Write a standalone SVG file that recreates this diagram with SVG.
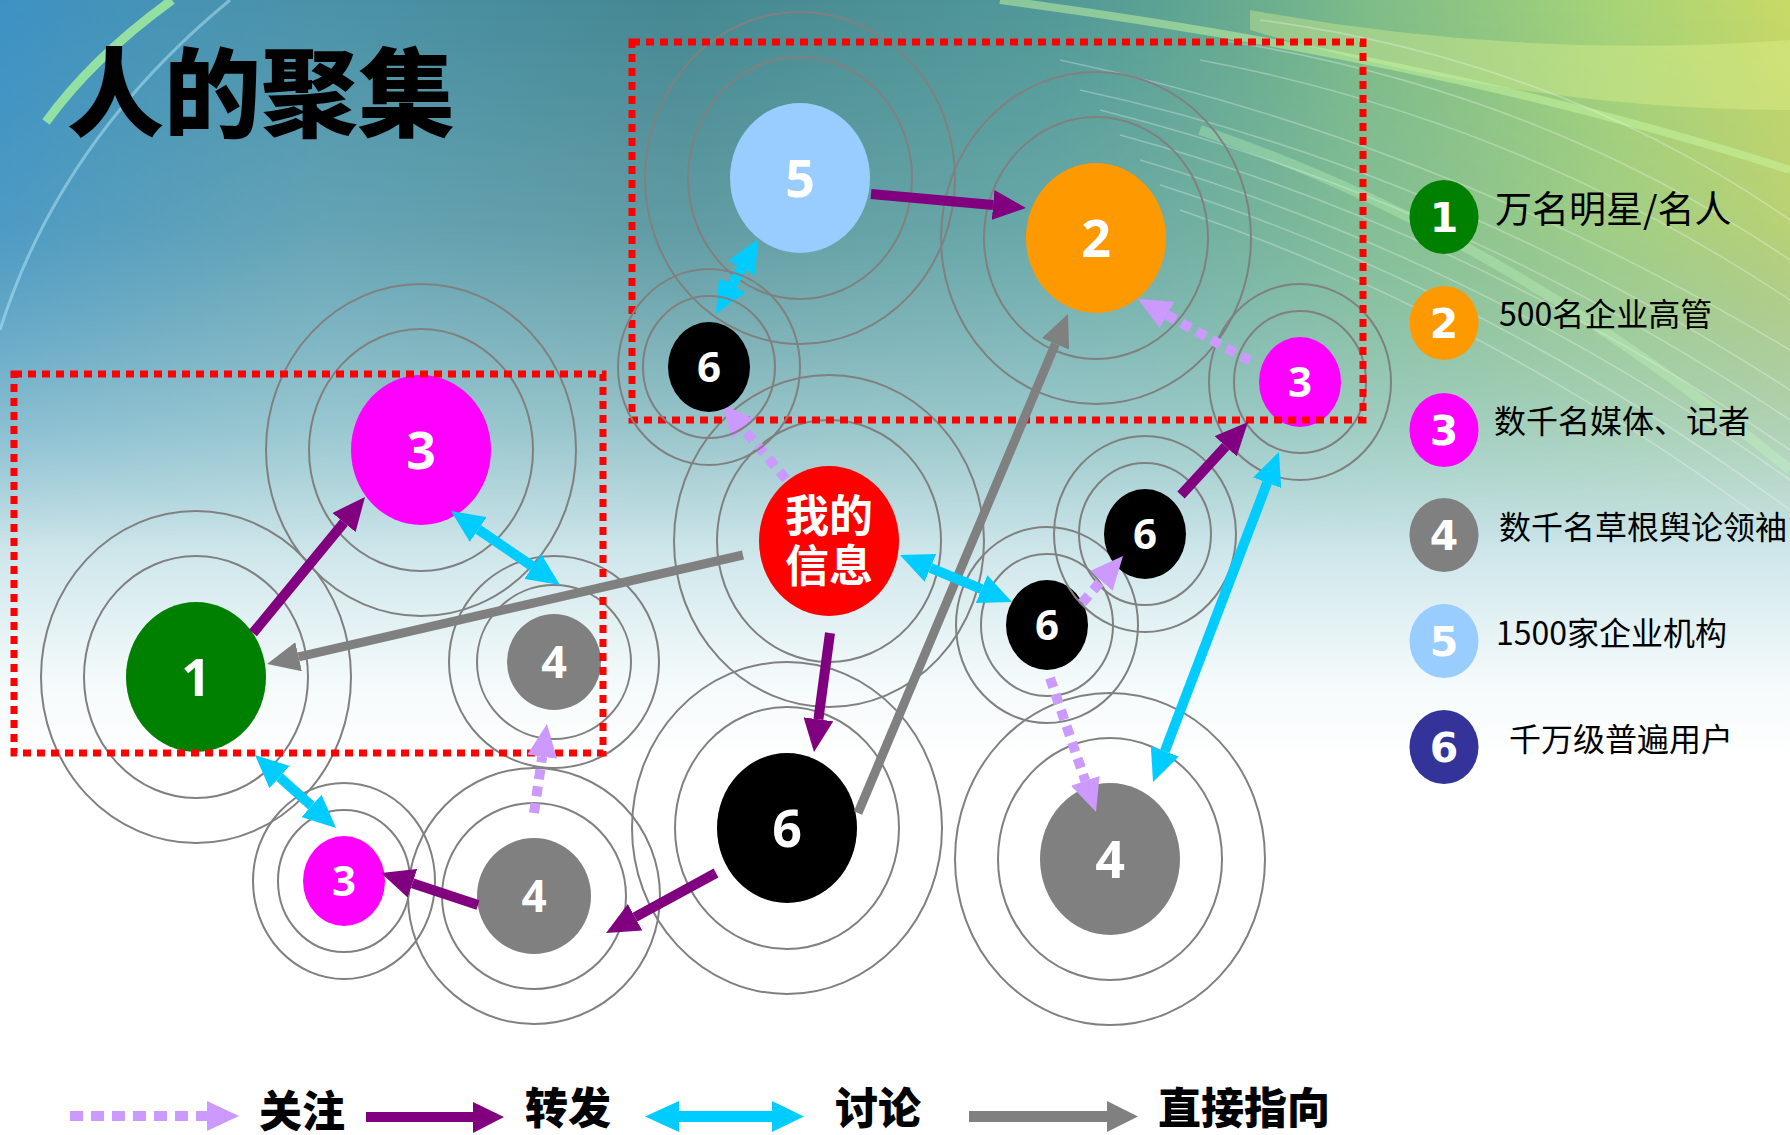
<svg xmlns="http://www.w3.org/2000/svg" width="1790" height="1135" viewBox="0 0 1790 1135">
<style>
.ring{fill:none;stroke:#808080;stroke-width:2}
.lbl{font-family:"Open Sans","Noto Sans",sans-serif;font-weight:700;fill:#fff;text-anchor:middle}
.big{font-size:52px}
.sm{font-size:42px}
.p{stroke:#800080;stroke-width:10;fill:none}
.c{stroke:#00CCFF;stroke-width:10;fill:none}
.g{stroke:#808080;stroke-width:9;fill:none}
.l{stroke:#CC99FF;stroke-width:10;fill:none;stroke-dasharray:10 7}
.leg{font-family:"Noto Sans CJK SC","Noto Sans",sans-serif;font-size:32px;fill:#000}
.leg1{font-size:37px}
.legn{font-family:"DejaVu Sans",sans-serif;font-weight:700;font-size:41px;fill:#fff;text-anchor:middle}
.bt{font-family:"Noto Sans CJK SC",sans-serif;font-weight:900;font-size:43px;fill:#000}
.frame{fill:none;stroke:#FF0000;stroke-width:7;stroke-dasharray:8 6}
.streak{fill:none;stroke:#ffffff;stroke-opacity:0.28;stroke-width:1.6}
</style>
<defs>
<linearGradient id="bgV" x1="0" y1="0" x2="0" y2="1">
<stop offset="0" stop-color="#4b8e9c"/>
<stop offset="0.2" stop-color="#6fa8b2"/>
<stop offset="0.38" stop-color="#a4ced4"/>
<stop offset="0.5" stop-color="#d3e9ed"/>
<stop offset="0.6" stop-color="#f4fafb"/>
<stop offset="0.67" stop-color="#ffffff"/>
</linearGradient>
<linearGradient id="bgH" x1="0" y1="0" x2="1" y2="0">
<stop offset="0" stop-color="#3a93cf" stop-opacity="0.8"/>
<stop offset="0.18" stop-color="#4a9ac0" stop-opacity="0.35"/>
<stop offset="0.38" stop-color="#3c7c7e" stop-opacity="0.35"/>
<stop offset="0.58" stop-color="#5aaa90" stop-opacity="0.35"/>
<stop offset="0.76" stop-color="#92cf80" stop-opacity="0.7"/>
<stop offset="0.9" stop-color="#b8e070" stop-opacity="0.85"/>
<stop offset="1" stop-color="#d4e060" stop-opacity="0.92"/>
</linearGradient>
<linearGradient id="fadeV" x1="0" y1="0" x2="0" y2="1">
<stop offset="0" stop-color="#fff"/>
<stop offset="0.2" stop-color="#ccc"/>
<stop offset="0.48" stop-color="#000"/>
</linearGradient>
<mask id="fadeM"><rect width="1790" height="1135" fill="url(#fadeV)"/></mask>
<marker id="mP" viewBox="0 0 3.3 3" refX="0" refY="1.5" markerWidth="3.3" markerHeight="3" orient="auto-start-reverse" markerUnits="strokeWidth"><path d="M0,0 L3.3,1.5 L0,3 z" fill="#800080"/></marker>
<marker id="mC" viewBox="0 0 3.3 3" refX="0" refY="1.5" markerWidth="3.3" markerHeight="3" orient="auto-start-reverse" markerUnits="strokeWidth"><path d="M0,0 L3.3,1.5 L0,3 z" fill="#00CCFF"/></marker>
<marker id="mL" viewBox="0 0 3.3 3" refX="0" refY="1.5" markerWidth="3.3" markerHeight="3" orient="auto-start-reverse" markerUnits="strokeWidth"><path d="M0,0 L3.3,1.5 L0,3 z" fill="#CC99FF"/></marker>
<marker id="mG" viewBox="0 0 3.6 3.3" refX="0" refY="1.65" markerWidth="3.6" markerHeight="3.3" orient="auto-start-reverse" markerUnits="strokeWidth"><path d="M0,0 L3.6,1.65 L0,3.3 z" fill="#808080"/></marker>
</defs>

<g id="background">
<rect width="1790" height="1135" fill="url(#bgV)"/>
<rect width="1790" height="1135" fill="url(#bgH)" mask="url(#fadeM)"/>
<path d="M1250 10 Q1520 60 1790 40 L1790 110 Q1520 110 1250 30 z" fill="#e6f590" fill-opacity="0.35"/>
<path d="M1000 0 Q1450 60 1790 170" fill="none" stroke="#c8f8a0" stroke-opacity="0.5" stroke-width="8"/>
<g>
<path class="streak" d="M1080 90 Q1450 170 1790 390"/>
<path class="streak" d="M1100 110 Q1460 200 1790 420"/>
<path class="streak" d="M1120 135 Q1470 230 1790 450"/>
<path class="streak" d="M1140 160 Q1480 260 1790 480"/>
<path class="streak" d="M1160 185 Q1490 290 1790 510"/>
<path class="streak" d="M1180 210 Q1500 320 1790 540"/>
<path class="streak" d="M1200 60 Q1520 120 1790 300"/>
<path class="streak" d="M1220 40 Q1540 90 1790 260"/>
<path class="streak" d="M1260 20 Q1560 60 1790 220"/>
<path class="streak" d="M1060 60 Q1440 140 1790 350"/>
</g>
<path d="M1200 130 Q1500 230 1790 470" fill="none" stroke="#c8ffc0" stroke-opacity="0.3" stroke-width="10"/>
<path d="M0 330 Q60 140 230 0" fill="none" stroke="#bff0ff" stroke-opacity="0.45" stroke-width="3"/>
<path d="M46 122 Q92 58 172 0" fill="none" stroke="#a6f29c" stroke-opacity="0.8" stroke-width="9"/>
</g>

<text x="67" y="129" font-family="'Noto Sans CJK SC',sans-serif" font-weight="900" font-size="97" fill="#000">人的聚集</text>

<g id="n5"><ellipse class="ring" cx="800" cy="178" rx="112" ry="121"/><ellipse class="ring" cx="800" cy="178" rx="155" ry="166"/><ellipse cx="800" cy="178" rx="70" ry="75" fill="#99CCFF"/><text class="lbl big" x="800" y="197">5</text></g>
<g id="n2"><ellipse class="ring" cx="1096" cy="238" rx="112" ry="121"/><ellipse class="ring" cx="1096" cy="238" rx="155" ry="166"/><ellipse cx="1096" cy="238" rx="70" ry="75" fill="#FF9900"/><text class="lbl big" x="1096" y="257">2</text></g>
<g id="n3a"><ellipse class="ring" cx="421" cy="450" rx="112" ry="121"/><ellipse class="ring" cx="421" cy="450" rx="155" ry="166"/><ellipse cx="421" cy="450" rx="70" ry="75" fill="#FF00FF"/><text class="lbl big" x="421" y="469">3</text></g>
<g id="n1"><ellipse class="ring" cx="196" cy="677" rx="112" ry="121"/><ellipse class="ring" cx="196" cy="677" rx="155" ry="166"/><ellipse cx="196" cy="677" rx="70" ry="75" fill="#008000"/><text class="lbl big" x="196" y="696">1</text></g>
<g id="n6big"><ellipse class="ring" cx="787" cy="828" rx="112" ry="121"/><ellipse class="ring" cx="787" cy="828" rx="155" ry="166"/><ellipse cx="787" cy="828" rx="70" ry="75" fill="#000"/><text class="lbl big" x="787" y="847">6</text></g>
<g id="nInfo"><ellipse class="ring" cx="829" cy="541" rx="112" ry="121"/><ellipse class="ring" cx="829" cy="541" rx="155" ry="166"/><ellipse cx="829" cy="541" rx="70" ry="75" fill="#FF0000"/><text x="829" y="532" font-family="'Noto Sans CJK SC',sans-serif" font-weight="700" font-size="44" fill="#fff" text-anchor="middle">我的</text><text x="829" y="582" font-family="'Noto Sans CJK SC',sans-serif" font-weight="700" font-size="44" fill="#fff" text-anchor="middle">信息</text></g>
<g id="n4R"><ellipse class="ring" cx="1110" cy="859" rx="112" ry="121"/><ellipse class="ring" cx="1110" cy="859" rx="155" ry="166"/><ellipse cx="1110" cy="859" rx="70" ry="76" fill="#808080"/><text class="lbl big" x="1110" y="878">4</text></g>
<g id="n3tr"><ellipse class="ring" cx="1300" cy="382" rx="66" ry="71"/><ellipse class="ring" cx="1300" cy="382" rx="91" ry="98"/><ellipse cx="1300" cy="382" rx="41" ry="45" fill="#FF00FF"/><text class="lbl sm" x="1300" y="397">3</text></g>
<g id="n3b"><ellipse class="ring" cx="344" cy="881" rx="66" ry="71"/><ellipse class="ring" cx="344" cy="881" rx="91" ry="98"/><ellipse cx="344" cy="881" rx="41" ry="45" fill="#FF00FF"/><text class="lbl sm" x="344" y="896">3</text></g>
<g id="n6mid"><ellipse class="ring" cx="1047" cy="625" rx="66" ry="71"/><ellipse class="ring" cx="1047" cy="625" rx="91" ry="98"/><ellipse cx="1047" cy="625" rx="41" ry="45" fill="#000"/><text class="lbl sm" x="1047" y="640">6</text></g>
<g id="n6up"><ellipse class="ring" cx="1145" cy="534" rx="66" ry="71"/><ellipse class="ring" cx="1145" cy="534" rx="91" ry="98"/><ellipse cx="1145" cy="534" rx="41" ry="45" fill="#000"/><text class="lbl sm" x="1145" y="549">6</text></g>
<g id="n4L"><ellipse class="ring" cx="554" cy="662" rx="77" ry="77"/><ellipse class="ring" cx="554" cy="662" rx="105" ry="106"/><ellipse cx="554" cy="662" rx="47" ry="48" fill="#808080"/><text class="lbl" font-size="45" x="554" y="678">4</text></g>
<g id="n4B"><ellipse class="ring" cx="534" cy="896" rx="92" ry="93"/><ellipse class="ring" cx="534" cy="896" rx="126" ry="128"/><ellipse cx="534" cy="896" rx="57" ry="58" fill="#808080"/><text class="lbl" font-size="44" x="534" y="912">4</text></g>

<g id="frames">
<rect class="frame" x="632" y="42" width="731" height="378"/>
<rect class="frame" x="14" y="374" width="589" height="379"/>
</g>

<g id="connectors">
<line class="p" x1="871" y1="194" x2="993.1" y2="205" marker-end="url(#mP)"/>
<line class="c" x1="741.9" y1="267.8" x2="732.1" y2="285.2" marker-start="url(#mC)" marker-end="url(#mC)"/>
<line class="g" x1="858" y1="813" x2="1055.4" y2="343.9" marker-end="url(#mG)"/>
<line class="g" x1="743" y1="555" x2="298.6" y2="656.8" marker-end="url(#mG)"/>
<line class="l" x1="786" y1="479" x2="743.4" y2="429.1" marker-end="url(#mL)"/>
<line class="p" x1="253" y1="633" x2="344" y2="522.5" marker-end="url(#mP)"/>
<line class="c" x1="478.3" y1="529.5" x2="532.7" y2="566.5" marker-start="url(#mC)" marker-end="url(#mC)"/>
<line class="c" x1="279.5" y1="777.1" x2="311.5" y2="805.9" marker-start="url(#mC)" marker-end="url(#mC)"/>
<line class="l" x1="534" y1="813" x2="542.2" y2="756.7" marker-end="url(#mL)"/>
<line class="p" x1="478" y1="905" x2="412.4" y2="883.3" marker-end="url(#mP)"/>
<line class="p" x1="716" y1="873" x2="635" y2="917.2" marker-end="url(#mP)"/>
<line class="p" x1="830" y1="633" x2="818.4" y2="719.3" marker-end="url(#mP)"/>
<line class="c" x1="930.4" y1="567.8" x2="981.6" y2="589.2" marker-start="url(#mC)" marker-end="url(#mC)"/>
<line class="l" x1="1082" y1="603" x2="1101.3" y2="580.9" marker-end="url(#mL)"/>
<line class="l" x1="1050" y1="678" x2="1085.3" y2="780.8" marker-end="url(#mL)"/>
<line class="p" x1="1181" y1="495" x2="1225.7" y2="446.3" marker-end="url(#mP)"/>
<line class="c" x1="1267.2" y1="482.8" x2="1164.8" y2="751.2" marker-start="url(#mC)" marker-end="url(#mC)"/>
<line class="l" x1="1250" y1="361" x2="1166.9" y2="315" marker-end="url(#mL)"/>
</g>

<g id="n6top"><ellipse class="ring" cx="709" cy="367" rx="66" ry="71"/><ellipse class="ring" cx="709" cy="367" rx="91" ry="98"/><ellipse cx="709" cy="367" rx="41" ry="45" fill="#000"/><text class="lbl sm" x="709" y="382">6</text></g>

<g id="legend">
<g id="leg1"><ellipse cx="1444" cy="217" rx="34.5" ry="37" fill="#008000"/><text class="legn" x="1444" y="232">1</text><text class="leg leg1" x="1495" y="223">万名明星/名人</text></g>
<g id="leg2"><ellipse cx="1444" cy="323" rx="34.5" ry="37" fill="#FF9900"/><text class="legn" x="1444" y="338">2</text><text class="leg" x="1499" y="326">500名企业高管</text></g>
<g id="leg3"><ellipse cx="1444" cy="430" rx="34.5" ry="37" fill="#FF00FF"/><text class="legn" x="1444" y="445">3</text><text class="leg" x="1494" y="433">数千名媒体、记者</text></g>
<g id="leg4"><ellipse cx="1444" cy="535" rx="34.5" ry="37" fill="#808080"/><text class="legn" x="1444" y="550">4</text><text class="leg" x="1499" y="539">数千名草根舆论领袖</text></g>
<g id="leg5"><ellipse cx="1444" cy="641" rx="34.5" ry="37" fill="#99CCFF"/><text class="legn" x="1444" y="656">5</text><text class="leg" x="1496" y="645">1500家企业机构</text></g>
<g id="leg6"><ellipse cx="1444" cy="747" rx="34.5" ry="37" fill="#333399"/><text class="legn" x="1444" y="762">6</text><text class="leg" x="1509" y="751">千万级普遍用户</text></g>
</g>

<g id="legend-bottom">
<line x1="70" y1="1116" x2="207" y2="1116" stroke="#CC99FF" stroke-width="10" stroke-dasharray="13 8"/>
<polygon points="207,1101 239,1116 207,1131" fill="#CC99FF"/>
<text class="bt" x="259" y="1127">关注</text>
<line x1="366" y1="1117" x2="474" y2="1117" stroke="#800080" stroke-width="10"/>
<polygon points="473,1102 504,1117 473,1133" fill="#800080"/>
<text class="bt" x="525" y="1124">转发</text>
<line x1="678" y1="1116.5" x2="773" y2="1116.5" stroke="#00CCFF" stroke-width="11"/>
<polygon points="679,1101 645,1116.5 679,1132" fill="#00CCFF"/>
<polygon points="772,1101 804,1116.5 772,1132" fill="#00CCFF"/>
<text class="bt" x="835" y="1124">讨论</text>
<line x1="969" y1="1116.5" x2="1108" y2="1116.5" stroke="#808080" stroke-width="11"/>
<polygon points="1107,1101 1138,1116.5 1107,1132" fill="#808080"/>
<text class="bt" x="1158" y="1124">直接指向</text>
</g>
</svg>
